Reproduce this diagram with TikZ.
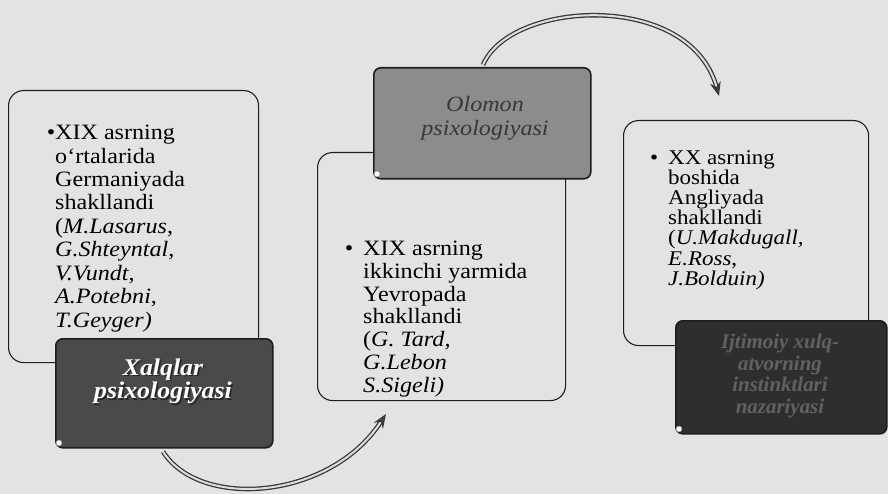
\documentclass[tikz,border=0pt]{standalone}
\usepackage{fontspec}
\setmainfont{Liberation Serif}
\usepackage{graphicx}
\usetikzlibrary{arrows.meta}
\definecolor{bg}{HTML}{E3E3E1}
\definecolor{darkA}{HTML}{4A4A4A}
\definecolor{darkB}{HTML}{2E2E2E}
\definecolor{midA}{HTML}{8C8C8C}
\definecolor{edge}{HTML}{1E1E1E}
\tikzset{
  wbox/.style={draw=edge, line width=1.1pt, rounded corners=15bp, anchor=north west, inner sep=0pt},
  dbox/.style={draw=edge, line width=1.6pt, rounded corners=7bp, anchor=north west, inner sep=0pt},
  txt/.style={anchor=north west, inner sep=0pt, align=left, font=\fontsize{22}{23.5}\selectfont},
  btitle/.style={inner sep=0pt, align=center, font=\fontsize{24}{23}\selectfont\bfseries\itshape},
  curl/.style={fill=white, draw=gray},
  flow/.style={draw=gray!45!black, double=gray!25, double distance=2pt, line width=1.3pt,
     -{Stealth[length=14bp,width=11bp,fill=gray!50!black]}}
}
\newcommand{\twoline}[2]{\begin{tabular}{@{}c@{}}#1\\#2\end{tabular}}
\begin{document}
\begin{tikzpicture}[x=1bp,y=-1bp]
\useasboundingbox (0,0) rectangle (888,494);
\fill[bg] (0,0) rectangle (888,494);

% box 1
\node[wbox, minimum width=250bp, minimum height=272bp] (b1) at (8,90) {};
\node[txt] (t1) at (55,125) {\scalebox{1.1}[1]{\parbox[t]{200bp}{\raggedright
\leavevmode\llap{\textbullet}XIX asrning\\
o‘rtalarida\\
Germaniyada\\
shakllandi\\
(\textit{M.Lasarus}, \\
\textit{G.Shteyntal}, \\
\textit{V.Vundt}, \\
\textit{A.Potebni}, \\
\textit{T.Geyger)}}}};
\node[dbox, fill=darkA, minimum width=217bp, minimum height=109bp] (d1) at (55,338) {};
\fill[curl] (59,443) circle (3bp);
\node[btitle, text=black!85] at (164.5,383.5) {\scalebox{1.08}[1]{\twoline{Xalqlar}{psixologiyasi}}};
\node[btitle, text=white] (d1t) at (163,382) {\scalebox{1.08}[1]{\twoline{Xalqlar}{psixologiyasi}}};

% box 2
\node[wbox, minimum width=248bp, minimum height=248bp] (b2) at (317,152) {};
\node[dbox, fill=midA, minimum width=217bp, minimum height=111bp] (d2) at (373,67) {};
\fill[curl] (377,174) circle (3bp);
\node[btitle, text=black!78, font=\fontsize{22}{24}\selectfont\itshape] (d2t) at (485,119) {\scalebox{1.1}[1]{\twoline{Olomon}{psixologiyasi}}};
\node[txt, font=\fontsize{22}{22.8}\selectfont] (t2) at (363,241) {\scalebox{1.1}[1]{\parbox[t]{200bp}{\raggedright
\leavevmode\llap{\textbullet\hspace{9bp}}XIX asrning\\
ikkinchi yarmida\\
Yevropada\\
shakllandi\\
(\textit{G. Tard,}\\
\textit{G.Lebon}\\
\textit{S.Sigeli)}}}};

% box 3
\node[wbox, minimum width=245bp, minimum height=225bp] (b3) at (623,120) {};
\node[txt, font=\fontsize{21}{20.3}\selectfont] (t3) at (668,150) {\scalebox{1.1}[1]{\parbox[t]{190bp}{\raggedright
\leavevmode\llap{\textbullet\hspace{9bp}}XX asrning\\
boshida\\
Angliyada\\
shakllandi\\
(\textit{U.Makdugall,}\\
\textit{E.Ross}, \\
\textit{J.Bolduin)}}}};
\node[dbox, fill=darkB, minimum width=211bp, minimum height=113bp] (d3) at (675,320) {};
\fill[curl] (679,429) circle (3bp);
\node[btitle, text=black!62, font=\fontsize{21}{22}\selectfont\bfseries\itshape] (d3t) at (780,376) {Ijtimoiy xulq-\\atvorning\\instinktlari\\nazariyasi};

% arrows
\coordinate (a1e) at (386,414);
\draw[flow] (d1.south west) ++(108,3) coordinate (a1s) .. controls (200,510) and (330,500) .. (a1e);
\coordinate (a2e) at (719,96);
\draw[flow] (d2.north west) ++(110,-2) coordinate (a2s) .. controls (510,0) and (690,-10) .. (a2e);
\end{tikzpicture}
\end{document}
